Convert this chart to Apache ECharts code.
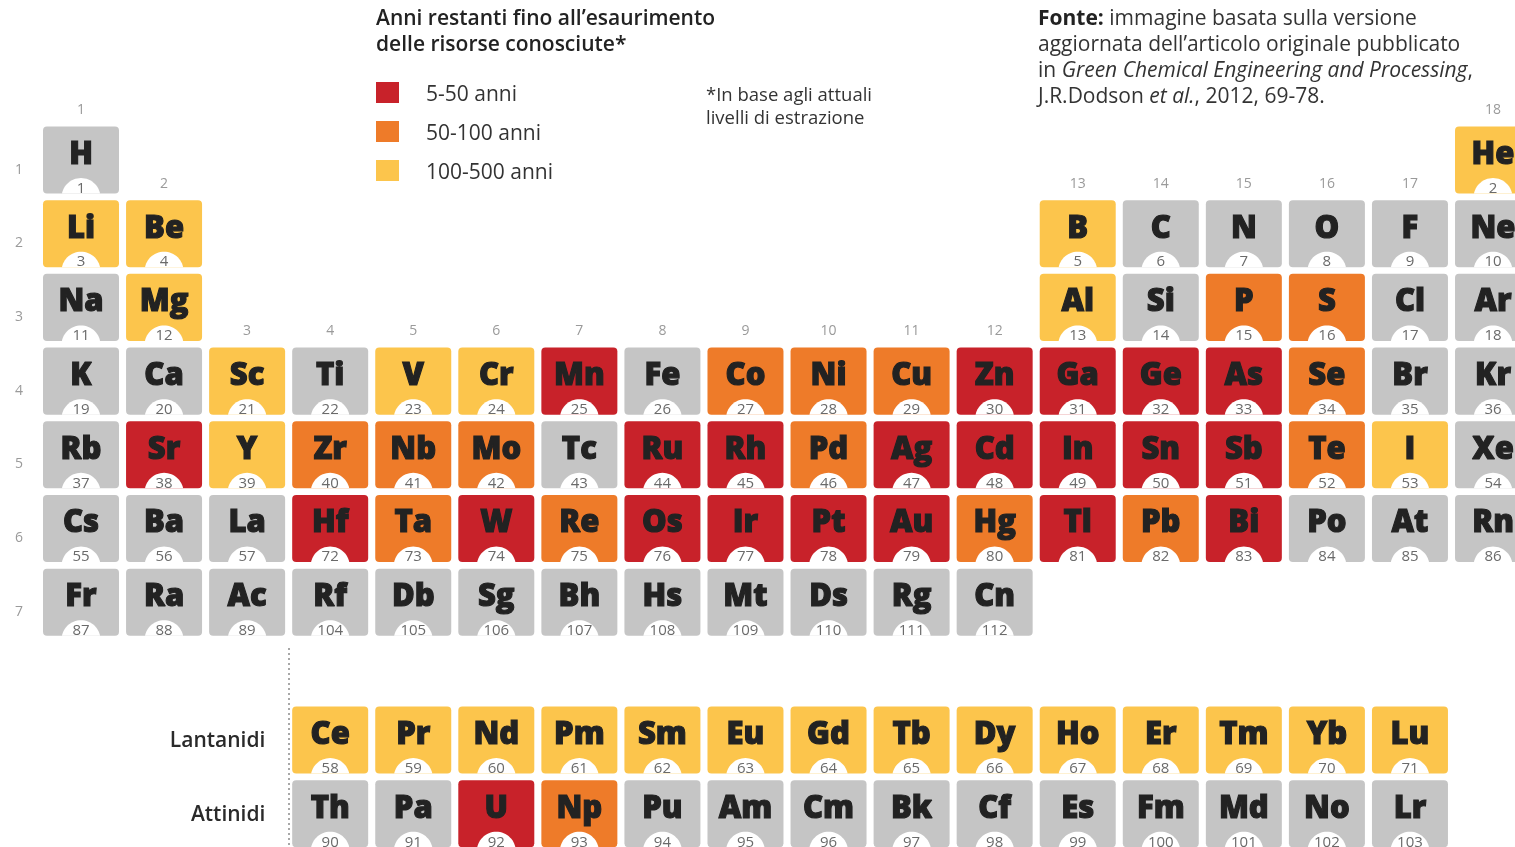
<!DOCTYPE html>
<html>
<head>
<meta charset="utf-8">
<title>Tavola periodica - esaurimento risorse</title>
<script src="https://cdn.jsdelivr.net/npm/echarts@6/dist/echarts.min.js"></script>
<style>
    html, body {margin: 0; padding: 0; background: #fff;}
    #chart {width: 1515px; height: 847px;}
</style>
</head>
<body>
<div id="chart"></div>
<script>
// simboli in ordine di numero atomico (1..112)
var symbols = ['H', 'He', 'Li', 'Be', 'B', 'C', 'N', 'O', 'F', 'Ne',
    'Na', 'Mg', 'Al', 'Si', 'P', 'S', 'Cl', 'Ar',
    'K', 'Ca', 'Sc', 'Ti', 'V', 'Cr', 'Mn', 'Fe', 'Co', 'Ni', 'Cu', 'Zn', 'Ga', 'Ge', 'As', 'Se', 'Br', 'Kr',
    'Rb', 'Sr', 'Y', 'Zr', 'Nb', 'Mo', 'Tc', 'Ru', 'Rh', 'Pd', 'Ag', 'Cd', 'In', 'Sn', 'Sb', 'Te', 'I', 'Xe',
    'Cs', 'Ba', 'La', 'Ce', 'Pr', 'Nd', 'Pm', 'Sm', 'Eu', 'Gd', 'Tb', 'Dy', 'Ho', 'Er', 'Tm', 'Yb', 'Lu',
    'Hf', 'Ta', 'W', 'Re', 'Os', 'Ir', 'Pt', 'Au', 'Hg', 'Tl', 'Pb', 'Bi', 'Po', 'At', 'Rn',
    'Fr', 'Ra', 'Ac', 'Th', 'Pa', 'U', 'Np', 'Pu', 'Am', 'Cm', 'Bk', 'Cf', 'Es', 'Fm', 'Md', 'No', 'Lr',
    'Rf', 'Db', 'Sg', 'Bh', 'Hs', 'Mt', 'Ds', 'Rg', 'Cn'];

// anni restanti fino all'esaurimento
var red = ['Mn', 'Zn', 'Ga', 'Ge', 'As', 'Sr', 'Ru', 'Rh', 'Ag', 'Cd', 'In', 'Sn', 'Sb',
    'Hf', 'W', 'Os', 'Ir', 'Pt', 'Au', 'Tl', 'Bi', 'U'];
var orange = ['P', 'S', 'Co', 'Ni', 'Cu', 'Se', 'Zr', 'Nb', 'Mo', 'Pd', 'Te', 'Ta', 'Re', 'Hg', 'Pb', 'Np'];
var yellow = ['He', 'Li', 'Be', 'B', 'Mg', 'Al', 'Sc', 'V', 'Cr', 'Y', 'I',
    'Ce', 'Pr', 'Nd', 'Pm', 'Sm', 'Eu', 'Gd', 'Tb', 'Dy', 'Ho', 'Er', 'Tm', 'Yb', 'Lu'];

var categoryNames = ['5-50 anni', '50-100 anni', '100-500 anni', 'altro'];
var categoryColors = ['#c8222a', '#ee7b29', '#fcc54c', '#c5c5c5'];

var groupNumbers = [1, 2, 3, 4, 5, 6, 7, 8, 9, 10, 11, 12, 13, 14, 15, 16, 17, 18];
var periodNumbers = [1, 2, 3, 4, 5, 6, 7];
var seriesRowNames = ['Lantanidi', 'Attinidi'];

// riga "virtuale" per lantanidi e attinidi
var LANT_ROW = 8.87, ACT_ROW = 9.87;

// posizione (gruppo, periodo) dal numero atomico
function position(n) {
    if (n === 1) return [1, 1];
    if (n === 2) return [18, 1];
    if (n <= 4) return [n - 2, 2];
    if (n <= 10) return [n + 8, 2];
    if (n <= 12) return [n - 10, 3];
    if (n <= 18) return [n, 3];
    if (n <= 36) return [n - 18, 4];
    if (n <= 54) return [n - 36, 5];
    if (n <= 57) return [n - 54, 6];
    if (n <= 71) return [n - 54, LANT_ROW];
    if (n <= 86) return [n - 68, 6];
    if (n <= 89) return [n - 86, 7];
    if (n <= 103) return [n - 86, ACT_ROW];
    return [n - 100, 7];
}

function category(sym) {
    if (red.indexOf(sym) >= 0) return 0;
    if (orange.indexOf(sym) >= 0) return 1;
    if (yellow.indexOf(sym) >= 0) return 2;
    return 3;
}

// primo periodo occupato in ogni gruppo (per l'etichetta del gruppo)
function topRow(g) {
    if (g === 1 || g === 18) return 1;
    if (g === 2 || g >= 13) return 2;
    return 4;
}

// geometria della tabella (px)
var COL_PITCH = 83.06, ROW_PITCH = 73.7;
var X0 = 81, Y0 = 160;
var W = 1515, H = 847;

var cellData = [[], [], [], []];
symbols.forEach(function (sym, i) {
    var p = position(i + 1);
    cellData[category(sym)].push([p[0], p[1], sym, i + 1]);
});

// segmento di cerchio bianco in basso (badge del numero atomico)
function badgePoints(cx, by, r, drop) {
    var a = Math.asin(drop / r);
    var pts = [];
    for (var k = 0; k <= 28; k++) {
        var t = Math.PI + a + (Math.PI - 2 * a) * k / 28;
        pts.push([cx + r * Math.cos(t), by + drop + r * Math.sin(t)]);
    }
    return pts;
}

function renderCell(color, list) {
    return function (params, api) {
        var d = list[params.dataIndex];
        var c = api.coord([d[0], d[1]]);
        var s = api.size([1, 1]);
        var w = s[0] * 0.915, h = s[1] * 0.91;
        var x = c[0] - w / 2, y = c[1] - h / 2;
        return {
            type: 'group',
            children: [
                {type: 'rect', shape: {x: x, y: y, width: w, height: h, r: 4}, style: {fill: color}},
                {type: 'polygon', shape: {points: badgePoints(c[0], y + h, 19.5, 4)}, style: {fill: '#fff'}},
                {
                    type: 'text',
                    style: {
                        text: d[2], x: c[0], y: c[1] - 5, align: 'center', verticalAlign: 'middle',
                        fontFamily: 'Open Sans', fontWeight: 800, fontSize: 31, fill: '#222',
                        stroke: '#222', lineWidth: 1.1
                    }
                },
                {
                    type: 'text',
                    style: {
                        text: String(d[3]), x: c[0], y: y + h - 5, align: 'center', verticalAlign: 'middle',
                        fontFamily: 'Open Sans', fontWeight: 500, fontSize: 15, fill: '#6a6a6a'
                    }
                }
            ]
        };
    };
}

var labelData = [];
groupNumbers.forEach(function (g) {
    labelData.push([g, topRow(g) - 0.68, String(g), 'g']);
});
periodNumbers.forEach(function (p) {
    labelData.push([1 - 62 / COL_PITCH, p + 0.13, String(p), 'p']);
});
seriesRowNames.forEach(function (name, i) {
    labelData.push([3.22, (i === 0 ? LANT_ROW : ACT_ROW) + 0.02, name, 'r']);
});

function renderLabel(params, api) {
    var d = labelData[params.dataIndex];
    var c = api.coord([d[0], d[1]]);
    var isRow = d[3] === 'r';
    return {
        type: 'text',
        style: {
            text: d[2], x: c[0], y: c[1],
            align: isRow ? 'right' : 'center', verticalAlign: 'middle',
            fontFamily: 'Open Sans', fontWeight: isRow ? 600 : 400,
            fontSize: isRow ? 21 : 14, fill: isRow ? '#2a2a2a' : '#9a9a9a'
        }
    };
}

var chart = echarts.init(document.getElementById('chart'));

var series = categoryNames.map(function (name, k) {
    return {
        name: name,
        type: 'custom',
        renderItem: renderCell(categoryColors[k], cellData[k]),
        data: cellData[k].map(function (d) { return [d[0], d[1]]; }),
        itemStyle: {color: categoryColors[k]},
        silent: true
    };
});
series.push({
    name: 'etichette',
    type: 'custom',
    renderItem: renderLabel,
    data: labelData.map(function (d) { return [d[0], d[1]]; }),
    silent: true,
    markLine: {
        silent: true,
        symbol: 'none',
        label: {show: false},
        lineStyle: {type: [2, 3], color: '#8a8a8a', width: 1.5},
        data: [[{coord: [3.5, 7.62]}, {coord: [3.5, 10.3]}]]
    }
});

var xMin = 1 - X0 / COL_PITCH;
var yMin = 1 - Y0 / ROW_PITCH;

var option = {
    animation: false,
    backgroundColor: '#fff',
    textStyle: {fontFamily: 'Open Sans'},
    title: [
        {
            text: 'Anni restanti fino all’esaurimento\ndelle risorse conosciute*',
            left: 376, top: 6, padding: 0,
            textStyle: {fontSize: 21, fontWeight: 600, lineHeight: 26, color: '#222', fontFamily: 'Open Sans'}
        },
        {
            text: '*In base agli attuali\nlivelli di estrazione',
            left: 706, top: 84, padding: 0,
            textStyle: {fontSize: 18.5, fontWeight: 400, lineHeight: 23, color: '#333', fontFamily: 'Open Sans'}
        },
        {
            text: '{b|Fonte:} immagine basata sulla versione\naggiornata dell’articolo originale pubblicato\nin {i|Green Chemical Engineering and Processing},\nJ.R.Dodson {i|et al.}, 2012, 69-78.',
            left: 1038, top: 6, padding: 0,
            textStyle: {
                fontSize: 21, fontWeight: 400, lineHeight: 26, color: '#333', fontFamily: 'Open Sans',
                rich: {
                    b: {fontSize: 21, fontWeight: 700, color: '#222', lineHeight: 26, fontFamily: 'Open Sans'},
                    i: {fontSize: 21, fontStyle: 'italic', color: '#333', lineHeight: 26, fontFamily: 'Open Sans'}
                }
            }
        }
    ],
    legend: {
        data: categoryNames.slice(0, 3),
        orient: 'vertical',
        left: 376, top: 82, padding: 0,
        itemWidth: 23, itemHeight: 21, itemGap: 15,
        icon: 'rect',
        selectedMode: false,
        formatter: '{t|{name}}',
        textStyle: {
            fontFamily: 'Open Sans',
            rich: {
                t: {fontSize: 21, color: '#333', fontFamily: 'Open Sans', padding: [6, 0, 0, 22]}
            }
        }
    },
    grid: {left: 0, right: 0, top: 0, bottom: 0, containLabel: false},
    xAxis: {type: 'value', min: xMin, max: xMin + W / COL_PITCH, show: false},
    yAxis: {type: 'value', inverse: true, min: yMin, max: yMin + H / ROW_PITCH, show: false},
    series: series
};

chart.setOption(option);
</script>
</body>
</html>
